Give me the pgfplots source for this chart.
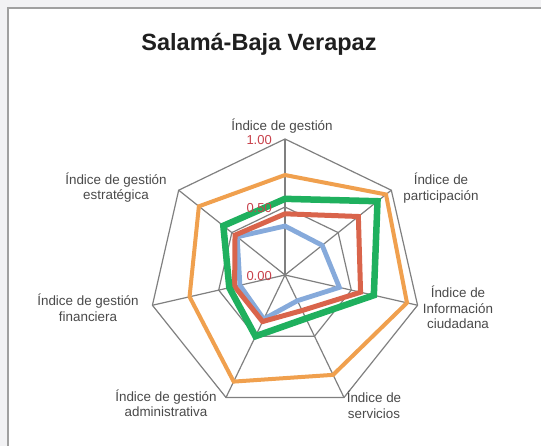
\documentclass[border=0pt]{standalone}
\usepackage{pgfplots}
\pgfplotsset{compat=1.18}
\usepgfplotslibrary{polar}
\usepackage{fontspec}
\setmainfont{Liberation Sans}
\definecolor{cOrange}{HTML}{F0A04E}
\definecolor{cRed}{HTML}{D9644B}
\definecolor{cBlue}{HTML}{86AADB}
\definecolor{cGreen}{HTML}{1FB05E}
\definecolor{cGrid}{HTML}{808080}
\definecolor{cTick}{HTML}{C8414B}
\definecolor{cLab}{HTML}{4A4A4A}
\definecolor{cBg}{HTML}{F2F2F4}
\definecolor{cFrame}{HTML}{A0A0A0}
\begin{document}
\begin{tikzpicture}[x=1pt,y=1pt]
\path[use as bounding box] (0,0) rectangle (541,446);
\fill[cBg] (0,0) rectangle (541,446);
\fill[white] (8,0) rectangle (541,438);
\draw[cFrame,line width=1.4pt] (8,-5) -- (8,438) -- (546,438);
\begin{polaraxis}[
  at={(285pt,171pt)}, anchor=center,
  scale only axis, width=272pt, height=272pt,
  ymin=0, ymax=1, hide axis, clip=false,
]
% grid rings
\addplot[cGrid, line width=1.2pt, no marks] coordinates {(90,1)(38.571,1)(347.143,1)(295.714,1)(244.286,1)(192.857,1)(141.429,1)(90,1)};
\addplot[cGrid, line width=1.2pt, no marks] coordinates {(90,0.5)(38.571,0.5)(347.143,0.5)(295.714,0.5)(244.286,0.5)(192.857,0.5)(141.429,0.5)(90,0.5)};
% spokes
\addplot[cGrid, line width=1.2pt, no marks] coordinates {(90,0)(90,1)};
\addplot[cGrid, line width=1.2pt, no marks] coordinates {(38.571,0)(38.571,1)};
\addplot[cGrid, line width=1.2pt, no marks] coordinates {(347.143,0)(347.143,1)};
\addplot[cGrid, line width=1.2pt, no marks] coordinates {(295.714,0)(295.714,1)};
\addplot[cGrid, line width=1.2pt, no marks] coordinates {(244.286,0)(244.286,1)};
\addplot[cGrid, line width=1.2pt, no marks] coordinates {(192.857,0)(192.857,1)};
\addplot[cGrid, line width=1.2pt, no marks] coordinates {(141.429,0)(141.429,1)};
% series
\addplot[cOrange, line width=4pt, no marks, line join=miter] coordinates {(90,0.735)(38.571,0.95)(347.143,0.92)(295.714,0.815)(244.286,0.87)(192.857,0.72)(141.429,0.81)(90,0.735)} -- cycle;
\addplot[cBlue, line width=4.8pt, no marks, line join=miter] coordinates {(90,0.36)(38.571,0.35)(347.143,0.41)(295.714,0.21)(244.286,0.36)(192.857,0.34)(141.429,0.45)(90,0.36)} -- cycle;
\addplot[cRed, line width=5pt, no marks, line join=miter] coordinates {(90,0.45)(38.571,0.69)(347.143,0.57)(295.714,0.29)(244.286,0.38)(192.857,0.38)(141.429,0.47)(90,0.45)} -- cycle;
\addplot[cGreen, line width=6.5pt, no marks, line join=miter] coordinates {(90,0.56)(38.571,0.87)(347.143,0.67)(295.714,0.355)(244.286,0.50)(192.857,0.42)(141.429,0.58)(90,0.56)} -- cycle;
\end{polaraxis}
\node[font=\fontsize{23.5}{28}\selectfont\bfseries, text=black!88] at (259,402) {Salamá-Baja Verapaz};
\begin{scope}[every node/.style={font=\fontsize{13.4}{15.5}\selectfont, text=cLab, align=center}]
\node at (282,320) {Índice de gestión};
\node at (441,258) {Índice de\\participación};
\node at (458,138.5) {Índice de\\Información\\ciudadana};
\node at (374,41) {Índice de\\servicios};
\node at (166,42.5) {Índice de gestión\\administrativa};
\node at (88,138) {Índice de gestión\\financiera};
\node at (116,258.5) {Índice de gestión\\estratégica};
\end{scope}
\begin{scope}[every node/.style={font=\fontsize{13}{15}\selectfont, text=cTick, anchor=east, inner sep=0pt}]
\node at (272,305.5) {1.00};
\node at (272,238) {0.50};
\node at (272,169.5) {0.00};
\end{scope}
\end{tikzpicture}
\end{document}
